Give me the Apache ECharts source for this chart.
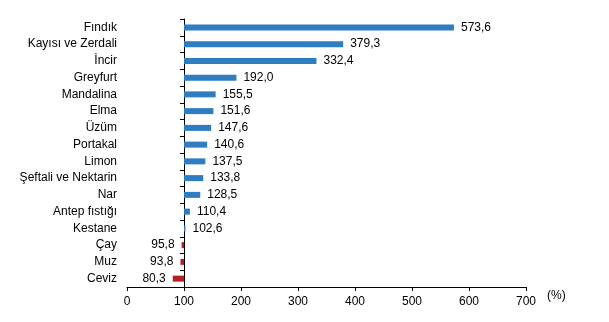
<!DOCTYPE html>
<html><head><meta charset="utf-8">
<script src="https://cdn.jsdelivr.net/npm/echarts@6/dist/echarts.min.js"></script>
<style>html,body{margin:0;padding:0;background:#fff}#c{width:609px;height:322px}</style>
</head><body><div id="c"></div>
<script>
var categories = ["Fındık","Kayısı ve Zerdali","İncir","Greyfurt","Mandalina","Elma","Üzüm","Portakal","Limon","Şeftali ve Nektarin","Nar","Antep fıstığı","Kestane","Çay","Muz","Ceviz"];
var values = [573.6,379.3,332.4,192.0,155.5,151.6,147.6,140.6,137.5,133.8,128.5,110.4,102.6,95.8,93.8,80.3];
var xTicks = [0,100,200,300,400,500,600,700];
var baseline = 100;

var blue = '#2e7dc0', red = '#b41f24';
var gridLeft = 127, gridRight = 83, W = 609;
var gridW = W - gridLeft - gridRight;
var xMax = xTicks[xTicks.length-1];

function fmt(v){ return v.toFixed(1).replace('.', ','); }

var baseData = values.map(function(v){ return Math.min(v, baseline); });
var deltaData = values.map(function(v){
  var up = v >= baseline;
  return {
    value: Math.abs(v - baseline),
    itemStyle: {color: up ? blue : red},
    label: {position: up ? 'right' : 'left'}
  };
});

var chart = echarts.init(document.getElementById('c'), null, {renderer:'canvas'});
var font = 'Liberation Sans, Arial, sans-serif';
chart.setOption({
  animation: false,
  grid: {left: gridLeft, right: gridRight, top: 19, bottom: 35, containLabel: false},
  xAxis: {
    type: 'value', min: xTicks[0], max: xMax, interval: 100,
    name: '(%)', nameLocation: 'end', nameGap: 21,
    nameTextStyle: {color:'#000', fontSize: 12, fontFamily: font, verticalAlign:'top', padding:[3,0,0,0]},
    axisLine: {show: true, lineStyle: {color:'#000', width: 1}},
    axisTick: {show: true, length: 4, lineStyle: {color:'#000'}},
    axisLabel: {color:'#000', fontSize: 12, fontFamily: font, margin: 9},
    splitLine: {show: false}
  },
  yAxis: [{
    type: 'category', data: categories, inverse: true, position: 'left',
    axisLine: {show: false}, axisTick: {show: false},
    axisLabel: {color:'#000', fontSize: 12, fontFamily: font, margin: 10}
  },{
    type: 'category', data: categories, inverse: true, position: 'left',
    offset: -gridW * (baseline - xTicks[0]) / (xMax - xTicks[0]),
    axisLine: {show: true, lineStyle: {color:'#000', width: 1}},
    axisTick: {show: true, length: 4, lineStyle: {color:'#000'}},
    axisLabel: {show: false}
  }],
  series: [{
    type: 'bar', stack: 's', data: baseData, barWidth: 6, silent: true,
    itemStyle: {color: 'rgba(0,0,0,0)'}
  },{
    type: 'bar', stack: 's', data: deltaData, barWidth: 6,
    label: {show: true, color:'#000', fontSize: 12, fontFamily: font, distance: 7,
      formatter: function(p){ return fmt(values[p.dataIndex]); }}
  }]
});
</script></body></html>
